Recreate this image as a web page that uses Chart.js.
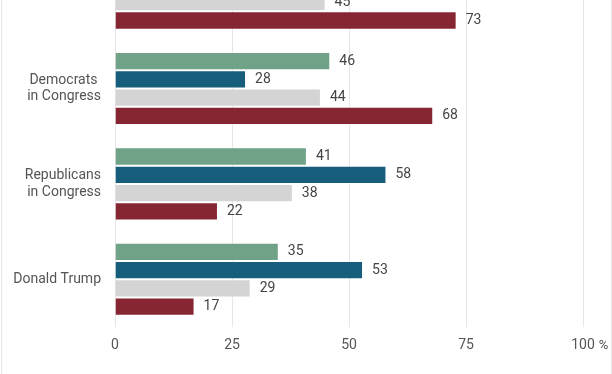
<!DOCTYPE html>
<html>
<head>
<meta charset="utf-8">
<script src="https://cdn.jsdelivr.net/npm/chart.js"></script>
<style>
  html, body { margin: 0; padding: 0; background: #fff; overflow: hidden; }
  #frame {
    position: absolute; left: 1px; top: -77px;
    width: 611px; height: 451px; box-sizing: border-box;
    border-left: 1px solid #e6e6e6; border-right: 1px solid #e6e6e6;
  }
  #frame canvas { display: block; }
</style>
</head>
<body>
<div id="frame"><canvas id="chart"></canvas></div>
<script>
  // first group is cut off at the top of the picture, only its last two bars show
  const categories = ['', ['Democrats ', 'in Congress'], ['Republicans', 'in Congress'], 'Donald Trump'];
  const seriesNames = ['Series 1', 'Series 2', 'Series 3', 'Series 4'];
  const green = [null, 46, 41, 35];
  const blue = [null, 28, 58, 53];
  const grey = [45, 44, 38, 29];
  const red = [73, 68, 22, 17];
  const tickValues = [0, 25, 50, 75, 100];

  const colors = ['#6fa286', '#175d7c', '#d4d4d4', '#862633'];
  const series = [green, blue, grey, red];

  Chart.defaults.font.family = 'Roboto';
  Chart.defaults.font.size = 14;
  Chart.defaults.color = '#555';

  const valueLabels = {
    id: 'valueLabels',
    afterDatasetsDraw(chart) {
      const ctx = chart.ctx;
      ctx.save();
      ctx.font = '14px Roboto';
      ctx.fillStyle = '#444';
      ctx.textBaseline = 'middle';
      ctx.textAlign = 'left';
      chart.data.datasets.forEach((ds, i) => {
        chart.getDatasetMeta(i).data.forEach((bar, j) => {
          const v = ds.data[j];
          if (v == null) return;
          ctx.fillText(v, bar.x + 9, bar.y);
        });
      });
      // unit sign after the last tick label
      const x = chart.scales.x;
      ctx.font = '14px Roboto';
      const w = ctx.measureText('100').width;
      ctx.fillStyle = '#555';
      ctx.font = '13px Roboto';
      ctx.fillText('%', x.getPixelForValue(100) + w / 2 + 4, x.top + 10 + 8.4);
      ctx.restore();
    }
  };

  new Chart(document.getElementById('chart'), {
    type: 'bar',
    data: {
      labels: categories,
      datasets: series.map((d, i) => ({
        label: seriesNames[i],
        data: d,
        backgroundColor: colors[i],
        borderColor: 'rgba(255,255,255,0.35)',
        borderWidth: 1,
        barPercentage: 1,
        categoryPercentage: 0.766
      }))
    },
    options: {
      indexAxis: 'y',
      responsive: true,
      maintainAspectRatio: false,
      animation: false,
      layout: { padding: { top: 8, right: 28, left: 0, bottom: 0 } },
      plugins: { legend: { display: false }, tooltip: { enabled: false } },
      scales: {
        x: {
          min: 0, max: 100,
          afterBuildTicks: s => { s.ticks = tickValues.map(v => ({ value: v })); },
          afterFit: s => { s.height = 47; },
          grid: { color: '#e6e6e6', drawTicks: false },
          border: { display: false },
          ticks: { padding: 10, color: '#555' }
        },
        y: {
          afterFit: s => { s.width = 113; },
          grid: { display: false, drawTicks: false },
          border: { display: false },
          ticks: { padding: 14, color: '#555', autoSkip: false }
        }
      }
    },
    plugins: [valueLabels]
  });
</script>
</body>
</html>
